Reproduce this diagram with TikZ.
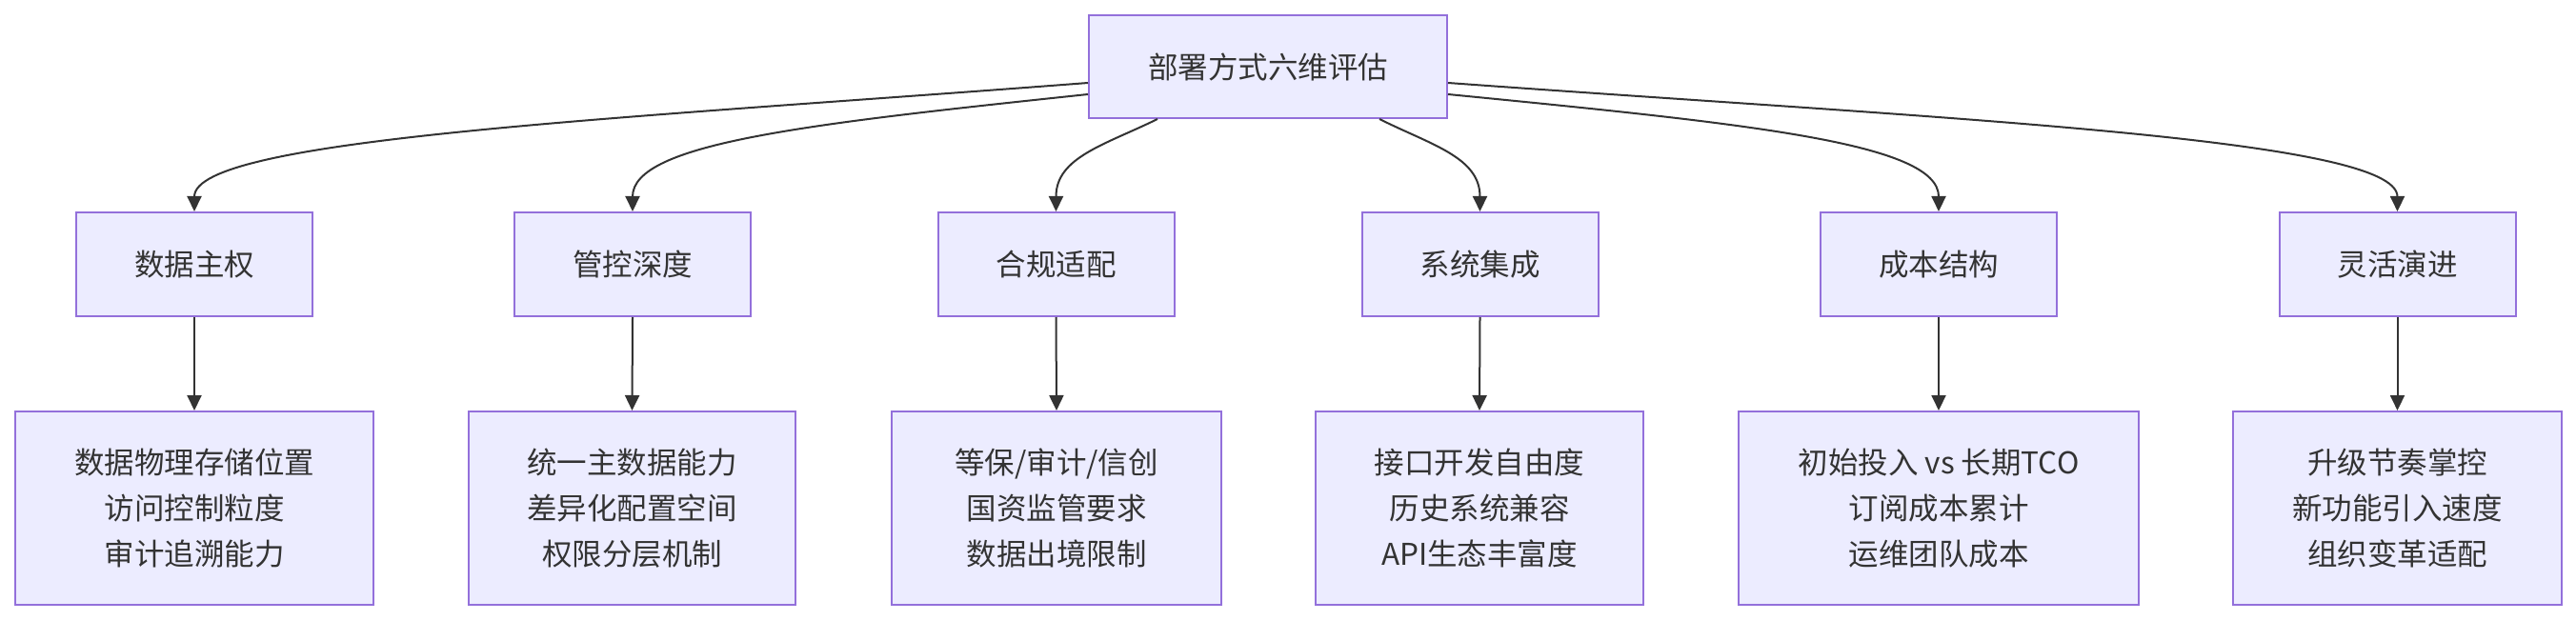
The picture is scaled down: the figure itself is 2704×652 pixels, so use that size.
\documentclass[tikz,border=0pt]{standalone}
\usepackage{fontspec}
\setmainfont{Noto Sans CJK SC}
\usetikzlibrary{arrows.meta}
\definecolor{boxfill}{HTML}{ECECFF}
\definecolor{boxdraw}{HTML}{9370DB}
\definecolor{ink}{HTML}{333333}
\begin{document}
\begin{tikzpicture}[x=1pt,y=-1pt,
  box/.style={draw=boxdraw,fill=boxfill,line width=2pt,inner sep=0pt,align=center,
    text=ink,font=\fontsize{31.5}{48}\selectfont},
  link/.style={draw=ink,line width=2pt,-{Triangle[length=16pt,width=15pt]}}]
\useasboundingbox (0,0) rectangle (2704,652);
\node[box,minimum width=376pt,minimum height=108pt] (top) at (1331,70) {部署方式六维评估};
\foreach \n/\x/\t in {a1/204/数据主权,a2/664/管控深度,a3/1108.5/合规适配,a4/1553.5/系统集成,a5/2035/成本结构,a6/2516.5/灵活演进}
  \node[box,minimum width=248pt,minimum height=109pt] (\n) at (\x,277.5) {\t};
\node[box,minimum width=376pt,minimum height=203pt] (b1) at (204,533.5) {数据物理存储位置\\访问控制粒度\\审计追溯能力};
\node[box,minimum width=343pt,minimum height=203pt] (b2) at (663.5,533.5) {统一主数据能力\\差异化配置空间\\权限分层机制};
\node[box,minimum width=346pt,minimum height=203pt] (b3) at (1109,533.5) {等保/审计/信创\\国资监管要求\\数据出境限制};
\node[box,minimum width=344pt,minimum height=203pt] (b4) at (1553,533.5) {接口开发自由度\\历史系统兼容\\API生态丰富度};
\node[box,minimum width=420pt,minimum height=203pt] (b5) at (2035,533.5) {初始投入 vs 长期TCO\\订阅成本累计\\运维团队成本};
\node[box,minimum width=345pt,minimum height=203pt] (b6) at (2516.5,533.5) {升级节奏掌控\\新功能引入速度\\组织变革适配};
\coordinate (s1) at ([yshift=-17pt]top.west);
\coordinate (s2) at ([yshift=-29pt]top.west);
\coordinate (s3) at ([xshift=-116pt]top.south);
\coordinate (s4) at ([xshift=117pt]top.south);
\coordinate (s5) at ([yshift=-29pt]top.east);
\coordinate (s6) at ([yshift=-17pt]top.east);
\draw[link] (s1) .. controls (650,125) and (204,145) .. (a1.north);
\draw[link] (s2) .. controls (850,130) and (664,150) .. (a2.north);
\draw[link] (s3) .. controls (1160,152) and (1108.5,165) .. (a3.north);
\draw[link] (s4) .. controls (1502,152) and (1553.5,165) .. (a4.north);
\draw[link] (s5) .. controls (1835,130) and (2035,150) .. (a5.north);
\draw[link] (s6) .. controls (2042,125) and (2516.5,145) .. (a6.north);
\foreach \i in {1,...,6} \draw[link] (a\i.south) -- (b\i.north);
\end{tikzpicture}
\end{document}
